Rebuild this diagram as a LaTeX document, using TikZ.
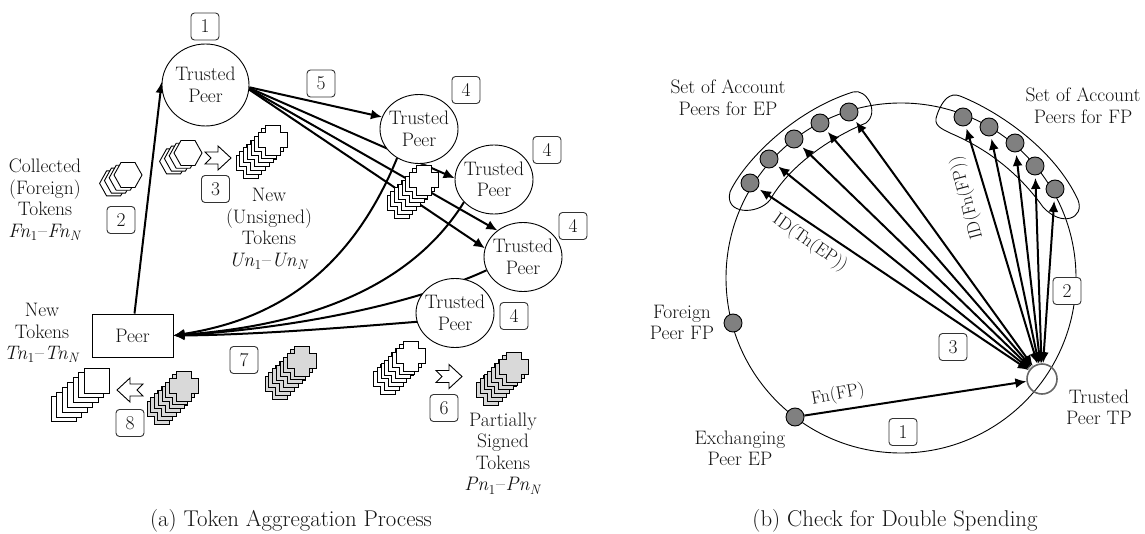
\documentclass[tikz,border=0pt]{standalone}
\usetikzlibrary{arrows.meta,shapes.geometric,backgrounds}
\definecolor{inktext}{gray}{0.08}
\definecolor{peergray}{gray}{0.5}
\definecolor{tokengray}{gray}{0.85}
\definecolor{tpgray}{gray}{0.4}
\newcommand{\tokrange}[1]{\textit{#1n}\textsubscript{1}\kern0.5pt--\kern0.5pt\textit{#1n}\textsubscript{\textit{N}}}
\newcommand{\peertext}{\makebox[40pt][c]{\raisebox{-3.5pt}{Trusted}}\\\makebox[40pt][c]{\raisebox{-3.5pt}{Peer}}}
\newcommand{\crossstack}[3][white]{%
  \foreach \i in {6,5,...,0}{%
    \draw[tokenline,fill=#1,shift={(#2-3.75*\i,#3+3.85*\i)}]
      (-7.5,-15)--(7.5,-15)--(7.5,-7.5)--(14.5,-7.5)--(14.5,7.5)--(7.5,7.5)--(7.5,15)--(-7.5,15)--(-7.5,7.5)--(-14.5,7.5)--(-14.5,-7.5)--(-7.5,-7.5)--cycle;}}
\newcommand{\hexstack}[2]{%
  \foreach \i in {3,2,1,0}{%
    \draw[tokenline,fill=white,shift={(#1-4.8*\i,#2+2.8*\i)}]
      (-7,-12.5)--(7,-12.5)--(14,0)--(7,12.5)--(-7,12.5)--(-14,0)--cycle;}}
\newcommand{\squarestack}[2]{%
  \foreach \i in {6,5,...,0}{%
    \draw[tokenline,fill=white,shift={(#1-5.5*\i,#2+4.8*\i)}]
      (-12.5,-12.5) rectangle (12.5,12.5);}}
\newcommand{\rightblock}[2]{\draw[blockarrow,shift={(#1,#2)}]
  (0,-6)--(13,-6)--(13,-12)--(26,0)--(13,12)--(13,6)--(0,6)--(6,0)--cycle;}
\newcommand{\leftblock}[2]{\draw[blockarrow,shift={(#1,#2)}]
  (0,-6)--(-13,-6)--(-13,-12)--(-26,0)--(-13,12)--(-13,6)--(0,6)--(-6,0)--cycle;}
\tikzset{
  x=1pt,y=-1pt,
  every node/.style={text=inktext,font=\fontsize{19.5}{21.5}\selectfont},
  tokenline/.style={draw=black,line width=0.9pt,line join=miter},
  blockarrow/.style={draw=black,line width=0.9pt,fill=white},
  stepbox/.style={draw=black!80,line width=0.9pt,rounded corners=3.5pt,fill=white,minimum width=28pt,minimum height=27pt,inner sep=0pt},
  peerellipse/.style={draw=black,line width=0.9pt,fill=white,ellipse,inner sep=0pt,align=center,minimum width=78pt,minimum height=69pt},
  label/.style={align=center,inner sep=0pt},
  sloped label/.style={inner sep=0pt,font=\fontsize{18}{21}\selectfont},
  caption/.style={inner sep=0pt,font=\fontsize{22.8}{25}\selectfont},
  thickarrow/.style={line width=2pt,-{Latex[length=11pt,width=10pt]}},
  bothways/.style={line width=2pt,{Latex[length=11pt,width=10pt]}-{Latex[length=11pt,width=10pt]},shorten >=2.5pt},
  dot/.style={circle,draw=black,line width=0.9pt,fill=peergray,minimum size=18pt,inner sep=0pt},
  loop/.style={draw=black,line width=0.9pt},
}
\begin{document}
\begin{tikzpicture}
\useasboundingbox (0,0) rectangle (1145,534);
% ---- (a) nodes
\node[peerellipse,minimum width=87pt,minimum height=82pt] (tp1) at (205.5,85) {\peertext};
\node[peerellipse] (tp2) at (419,129) {\peertext};
\node[peerellipse] (tp3) at (494,179.5) {\peertext};
\node[peerellipse] (tp4) at (523,257) {\peertext};
\node[peerellipse] (tp5) at (455,313) {\peertext};
\node[draw=black,line width=0.9pt,fill=white,minimum width=81pt,minimum height=43pt,inner sep=0pt] (peer) at (132.5,335.5) {Peer};
% ---- (a) connectors
\begin{pgfonlayer}{background}
\draw[thickarrow] ([xshift=2pt]peer.north) -- (tp1.176);
\draw[thickarrow] (tp1.-3) -- (tp2.162);
\draw[thickarrow] (tp1.-4) -- (tp3.178);
\draw[thickarrow] (tp1.-5) -- (tp4.134);
\draw[thickarrow] (tp1.-6) -- (tp4.167);
\draw[thickarrow] (tp2.233) .. controls (345,285) and (260,322) .. (peer.east);
\draw[thickarrow] (tp3.217) .. controls (400,305) and (270,328) .. (peer.east);
\draw[thickarrow] (tp4.200) .. controls (400,310) and (270,330) .. (peer.east);
\draw[thickarrow] (tp5.193) .. controls (340,328) and (250,335) .. (peer.east);
\end{pgfonlayer}
% ---- (a) tokens
\hexstack{128}{175}
\hexstack{188}{153}
\rightblock{205}{158}
\crossstack{273}{140}
\crossstack{424}{180}
\crossstack[tokengray]{302}{361}
\crossstack{410.5}{356}
\rightblock{436}{376.5}
\crossstack[tokengray]{513.5}{367}
\crossstack[tokengray]{184}{386}
\leftblock{143}{390}
\squarestack{96.5}{380.5}
% ---- (a) numbers
\node[stepbox] (a1) at (205,26.5) {1};
\node[stepbox] (a2) at (121,220) {2};
\node[stepbox] (a3) at (215.5,189) {3};
\node[stepbox] (a5) at (321,83.5) {5};
\node[stepbox] (a4a) at (466,90) {4};
\node[stepbox] (a4b) at (547,150) {4};
\node[stepbox] (a4c) at (573,226) {4};
\node[stepbox] (a4d) at (514,316) {4};
\node[stepbox] (a7) at (244,360) {7};
\node[stepbox] (a8) at (130,423) {8};
\node[stepbox] (a6) at (444,408) {6};
% ---- (a) labels
\node[label] (lcoll) at (45,199.5) {Collected\\(Foreign)\\Tokens\\\tokrange{F}};
\node[label] (lnew) at (269,229) {New\\(Unsigned)\\Tokens\\\tokrange{U}};
\node[label] (ltok) at (42,333) {New\\Tokens\\\tokrange{T}};
\node[label] (lpart) at (503,453.5) {Partially\\Signed\\Tokens\\\tokrange{P}};
\node[caption] (capa) at (291,521) {(a) Token Aggregation Process};
% ---- (b) ring
\draw[loop] (901,278) circle[radius=175pt];
\node[dot] (e1) at (750,183) {};
\node[dot] (e2) at (769,159) {};
\node[dot] (e3) at (794,139) {};
\node[dot] (e4) at (820,123) {};
\node[dot] (e5) at (849,112) {};
\node[dot] (f1) at (963,117) {};
\node[dot] (f2) at (989,127) {};
\node[dot] (f3) at (1015,143) {};
\node[dot] (f4) at (1035,166) {};
\node[dot] (f5) at (1055,189) {};
\node[dot] (fp) at (733,323) {};
\node[dot] (ep) at (795,417) {};
\node[circle,draw=tpgray,line width=1.6pt,minimum size=30pt,inner sep=0pt] (tp) at (1042,379) {};
% ---- (b) blobs
\draw[loop] (730,192) .. controls (742,165) and (790,112) .. (853,92)
  .. controls (866,88) and (880,112) .. (866,123)
  .. controls (830,138) and (790,165) .. (770,200)
  .. controls (758,215) and (724,215) .. (730,192) -- cycle;
\draw[loop] (937,115) .. controls (942,100) and (950,92) .. (960,96)
  .. controls (1000,112) and (1055,150) .. (1078,200)
  .. controls (1085,218) and (1062,228) .. (1043,207)
  .. controls (1020,175) and (990,150) .. (950,133)
  .. controls (940,128) and (933,125) .. (937,115) -- cycle;
% ---- (b) connectors
\foreach \p in {e1,e2,e3,e4,e5,f1,f2,f3,f4,f5}{\draw[bothways] (tp) -- (\p);}
\draw[thickarrow] (ep) -- (tp);
% ---- (b) numbers
\node[stepbox] (b1) at (903,432) {1};
\node[stepbox] (b2) at (1067,291) {2};
\node[stepbox] (b3) at (953,347) {3};
% ---- (b) labels
\node[label] (lsete) at (728,97.5) {Set of Account\\Peers for EP};
\node[label] (lsetf) at (1083,105.5) {Set of Account\\Peers for FP};
\node[label] (lfor) at (682,322.5) {Foreign\\Peer FP};
\node[label] (lexc) at (740,448.5) {Exchanging\\Peer EP};
\node[label] (ltp) at (1099,407.5) {Trusted\\Peer TP};
\node[sloped label,rotate=-35] (lide) at (810,243) {ID(Tn(EP))};
\node[sloped label,rotate=105] (lidf) at (967,198) {ID(Fn(FP))};
\node[sloped label,rotate=10] (lfn) at (838,395) {Fn(FP)};
\node[caption] (capb) at (895,521) {(b) Check for Double Spending};
\end{tikzpicture}
\end{document}
